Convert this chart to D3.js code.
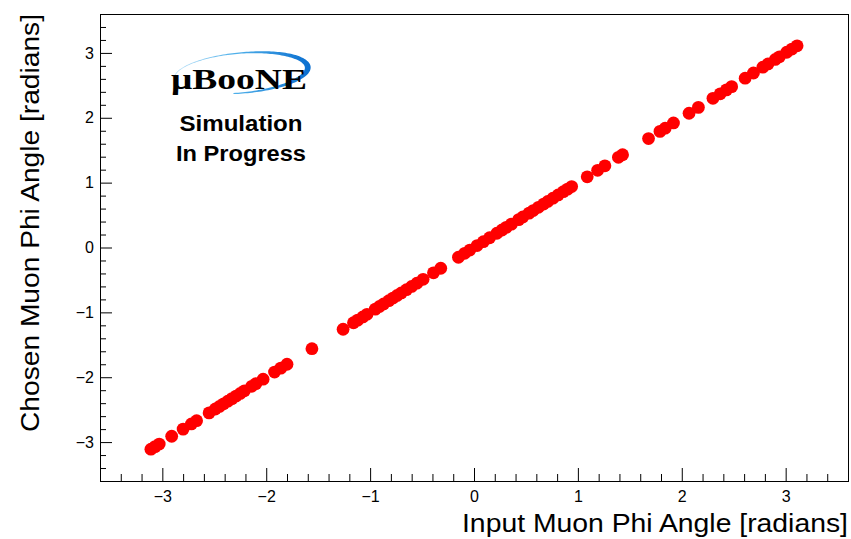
<!DOCTYPE html>
<html>
<head>
<meta charset="utf-8">
<script src="https://cdn.jsdelivr.net/npm/d3@7"></script>
<style>
  html, body { margin: 0; padding: 0; background: #fff; }
  svg { display: block; }
</style>
</head>
<body>
<svg id="chart" width="851" height="539"></svg>
<script>
// Reconstructed muon phi angle vs. generated (input) phi, one point per event
const inputPhi = [
  -3.11, -3.07, -3.03, -2.91, -2.80, -2.72, -2.67, -2.55, -2.49, -2.45,
  -2.41, -2.37, -2.33, -2.29, -2.25, -2.21, -2.14, -2.10, -2.03, -1.92,
  -1.86, -1.80, -1.56, -1.26, -1.16, -1.12, -1.07, -1.03, -0.95, -0.91,
  -0.87, -0.82, -0.78, -0.74, -0.70, -0.65, -0.60, -0.55, -0.49, -0.39,
  -0.32, -0.15, -0.09, -0.04, 0.03, 0.09, 0.15, 0.22, 0.27, 0.31,
  0.36, 0.43, 0.47, 0.53, 0.57, 0.62, 0.67, 0.71, 0.76, 0.81,
  0.86, 0.90, 0.94, 1.09, 1.19, 1.26, 1.39, 1.43, 1.68, 1.79,
  1.84, 1.92, 2.07, 2.16, 2.30, 2.37, 2.43, 2.48, 2.61, 2.69,
  2.78, 2.83, 2.90, 2.94, 3.01, 3.06, 3.11
];
const chosenPhi = [
  -3.11, -3.07, -3.03, -2.91, -2.80, -2.72, -2.67, -2.55, -2.49, -2.45,
  -2.41, -2.37, -2.33, -2.29, -2.25, -2.21, -2.14, -2.10, -2.03, -1.92,
  -1.86, -1.80, -1.56, -1.26, -1.16, -1.12, -1.07, -1.03, -0.95, -0.91,
  -0.87, -0.82, -0.78, -0.74, -0.70, -0.65, -0.60, -0.55, -0.49, -0.39,
  -0.32, -0.15, -0.09, -0.04, 0.03, 0.09, 0.15, 0.22, 0.27, 0.31,
  0.36, 0.43, 0.47, 0.53, 0.57, 0.62, 0.67, 0.71, 0.76, 0.81,
  0.86, 0.90, 0.94, 1.09, 1.19, 1.26, 1.39, 1.43, 1.68, 1.79,
  1.84, 1.92, 2.07, 2.16, 2.30, 2.37, 2.43, 2.48, 2.61, 2.69,
  2.78, 2.83, 2.90, 2.94, 3.01, 3.06, 3.11
];
const majorTicks = [-3, -2, -1, 0, 1, 2, 3];
const xTitle = "Input Muon Phi Angle [radians]";
const yTitle = "Chosen Muon Phi Angle [radians]";
const logoText = "\u03bcBooNE";
const statusLines = ["Simulation", "In Progress"];

const svg = d3.select("#chart");
const frame = { left: 100, right: 848, top: 14, bottom: 481 };
const dom = [-3.6, 3.6];
const x = d3.scaleLinear().domain(dom).range([frame.left, frame.right]);
const y = d3.scaleLinear().domain(dom).range([frame.bottom, frame.top]);

const minorTicks = d3.range(-34, 35, 2).map(v => v / 10).filter(v => Math.abs(v % 1) > 1e-6);
const fmt = v => (v < 0 ? "\u2212" + Math.abs(v) : String(v));
const font = "'Liberation Sans', Arial, Helvetica, sans-serif";

// points
const pts = inputPhi.map((v, i) => ({ x: v, y: chosenPhi[i] }));
svg.append("g").selectAll("circle").data(pts).join("circle")
  .attr("cx", d => x(d.x)).attr("cy", d => y(d.y)).attr("r", 6.4)
  .attr("fill", "#ff0000");

// axes: ticks drawn inward from the frame
function styleAxis(g) {
  g.select(".domain").remove();
  g.selectAll("line").attr("stroke", "#000").attr("stroke-width", 1);
  g.selectAll("text").attr("font-family", font).attr("font-size", 16).attr("fill", "#000");
}
svg.append("g").attr("transform", `translate(0,${frame.bottom})`)
  .call(d3.axisBottom(x).tickValues(majorTicks).tickSize(-13).tickPadding(10).tickFormat(fmt))
  .call(styleAxis);
svg.append("g").attr("transform", `translate(0,${frame.bottom})`)
  .call(d3.axisBottom(x).tickValues(minorTicks).tickSize(-7).tickFormat(""))
  .call(styleAxis);
svg.append("g").attr("transform", `translate(${frame.left},0)`)
  .call(d3.axisLeft(y).tickValues(majorTicks).tickSize(-12).tickPadding(6).tickFormat(fmt))
  .call(styleAxis);
svg.append("g").attr("transform", `translate(${frame.left},0)`)
  .call(d3.axisLeft(y).tickValues(minorTicks).tickSize(-6).tickFormat(""))
  .call(styleAxis);

// frame
svg.append("rect")
  .attr("x", frame.left + 0.5).attr("y", frame.top + 0.5)
  .attr("width", frame.right - frame.left).attr("height", frame.bottom - frame.top)
  .attr("fill", "none").attr("stroke", "#000").attr("stroke-width", 1);

// axis titles
svg.append("text").text(xTitle)
  .attr("x", frame.right).attr("y", 532).attr("text-anchor", "end")
  .attr("font-family", font).attr("font-size", 25).attr("fill", "#000")
  .attr("textLength", 386).attr("lengthAdjust", "spacingAndGlyphs");
svg.append("text").text(yTitle)
  .attr("transform", `translate(39,${frame.top}) rotate(-90)`).attr("text-anchor", "end")
  .attr("font-family", font).attr("font-size", 25).attr("fill", "#000")
  .attr("textLength", 418).attr("lengthAdjust", "spacingAndGlyphs");

// experiment logo: blue swoosh around the wordmark
const defs = svg.append("defs");
const grad = defs.append("linearGradient").attr("id", "swoosh")
  .attr("gradientUnits", "userSpaceOnUse")
  .attr("x1", 175).attr("y1", 0).attr("x2", 310).attr("y2", 0);
grad.append("stop").attr("offset", 0).attr("stop-color", "#b9e0f7");
grad.append("stop").attr("offset", 0.45).attr("stop-color", "#4fb0ea");
grad.append("stop").attr("offset", 1).attr("stop-color", "#0b6fd0");

const cx = 241, cy = 73, rx = 67, ry = 20, rot = -5 * Math.PI / 180;
const ang = d3.range(-174, 100, 2).map(a => a * Math.PI / 180);
const widthAt = a => {
  const deg = a * 180 / Math.PI;
  return 0.8 + 5.0 * Math.exp(-Math.pow((deg + 2) / 60, 2));
};
const ptAt = (a, off) => {
  const px = (rx + off) * Math.cos(a), py = (ry + off) * Math.sin(a);
  return [cx + px * Math.cos(rot) - py * Math.sin(rot), cy + px * Math.sin(rot) + py * Math.cos(rot)];
};
const outer = ang.map(a => ptAt(a, widthAt(a) / 2));
const inner = ang.slice().reverse().map(a => ptAt(a, -widthAt(a) / 2));
svg.append("path")
  .attr("d", d3.line()(outer.concat(inner)) + "Z")
  .attr("fill", "url(#swoosh)");

svg.append("text").text(logoText)
  .attr("x", 171).attr("y", 89)
  .attr("font-family", "'Liberation Serif', 'Times New Roman', serif")
  .attr("font-weight", "bold").attr("font-size", 30).attr("fill", "#000")
  .attr("textLength", 136).attr("lengthAdjust", "spacingAndGlyphs");

const statusWidths = [123, 130];
svg.append("g").selectAll("text").data(statusLines).join("text")
  .text(d => d)
  .attr("x", 241).attr("y", (d, i) => 131 + i * 30)
  .attr("text-anchor", "middle")
  .attr("textLength", (d, i) => statusWidths[i]).attr("lengthAdjust", "spacingAndGlyphs")
  .attr("font-family", font).attr("font-weight", "bold").attr("font-size", 22).attr("fill", "#000");
</script>
</body>
</html>
